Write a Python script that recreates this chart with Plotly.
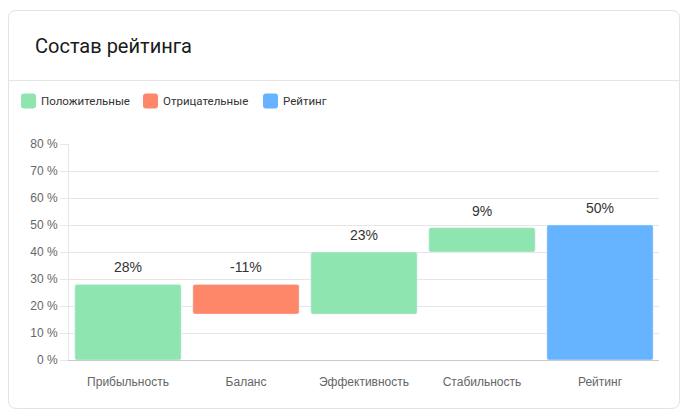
import plotly.graph_objects as go

# Chart data
categories = ['Прибыльность', 'Баланс', 'Эффективность', 'Стабильность', 'Рейтинг']
changes = [28, -11, 23, 9]
rating_total = 50
legend_names = ['Положительные', 'Отрицательные', 'Рейтинг']
colors = ['#8ee5b0', '#ff8769', '#66b3ff']
y_ticks = [0, 10, 20, 30, 40, 50, 60, 70, 80]

# the page body has an 8px margin, so the figure is drawn 8px smaller
OFF = 8
W, H = 688 - OFF, 419 - OFF
ML, MR, MT, MB = 69 - OFF, 29, 144 - OFF, 59
PW, PH = W - ML - MR, H - MT - MB


def px(x):
    return (x - OFF - ML) / PW


def py(y):
    return (H - MB - (y - OFF)) / PH


# running bases for the waterfall steps
bases = []
running = 0
for v in changes:
    bases.append(running)
    running += v

fig = go.Figure()

pos_x = [c for c, v in zip(categories, changes) if v >= 0]
pos_y = [v for v in changes if v >= 0]
pos_b = [b for b, v in zip(bases, changes) if v >= 0]
neg_x = [c for c, v in zip(categories, changes) if v < 0]
neg_y = [v for v in changes if v < 0]
neg_b = [b for b, v in zip(bases, changes) if v < 0]

fig.add_trace(go.Bar(x=pos_x, y=pos_y, base=pos_b, name=legend_names[0],
                     marker=dict(color=colors[0], cornerradius=2)))
fig.add_trace(go.Bar(x=neg_x, y=neg_y, base=neg_b, name=legend_names[1],
                     marker=dict(color=colors[1], cornerradius=2)))
fig.add_trace(go.Bar(x=[categories[-1]], y=[rating_total], base=[0], name=legend_names[2],
                     marker=dict(color=colors[2], cornerradius=2)))

# value labels above each bar
tops = [max(b, b + v) for b, v in zip(bases, changes)] + [rating_total]
labels = ['%d%%' % v for v in changes] + ['%d%%' % rating_total]
for cat, top, lab in zip(categories, tops, labels):
    fig.add_annotation(x=cat, y=top, text=lab, showarrow=False, yshift=17,
                       font=dict(family='Liberation Sans, Arial', size=14, color='#333'))


def rounded(a, b, c, d, rr):
    return (f'M{px(a + rr)},{py(c)} L{px(b - rr)},{py(c)} Q{px(b)},{py(c)} {px(b)},{py(c + rr)} '
            f'L{px(b)},{py(d - rr)} Q{px(b)},{py(d)} {px(b - rr)},{py(d)} '
            f'L{px(a + rr)},{py(d)} Q{px(a)},{py(d)} {px(a)},{py(d - rr)} '
            f'L{px(a)},{py(c + rr)} Q{px(a)},{py(c)} {px(a + rr)},{py(c)} Z')


# card frame, header separator
fig.add_shape(type='path', path=rounded(8.5, 679.5, 10.5, 408.5, 8), xref='paper', yref='paper',
              line=dict(color='#e3e3e3', width=1), layer='below')
fig.add_shape(type='line', xref='paper', yref='paper', x0=px(8.5), x1=px(679.5), y0=py(80.5), y1=py(80.5),
              line=dict(color='#e6e6e6', width=1))

fig.add_annotation(xref='paper', yref='paper', x=px(33), y=py(46), xanchor='left', yanchor='middle',
                   text='Состав рейтинга', showarrow=False,
                   font=dict(family='Roboto', size=20, color='#1a1a1a'))

# custom legend with rounded swatches
legend_x = [21, 143, 263]
s = 15
for lx, name, col in zip(legend_x, legend_names, colors):
    fig.add_shape(type='path', path=rounded(lx, lx + s, 93.5, 93.5 + s, 3), xref='paper', yref='paper',
                  fillcolor=col, line=dict(width=0))
    fig.add_annotation(xref='paper', yref='paper', x=px(lx + s + 3), y=py(101), xanchor='left',
                       yanchor='middle', text=name, showarrow=False,
                       font=dict(family='Roboto', size=11.5, color='#333'))

fig.update_layout(
    width=W, height=H,
    margin=dict(l=ML, r=MR, t=MT, b=MB),
    paper_bgcolor='white', plot_bgcolor='white',
    barmode='overlay', bargap=0.1,
    showlegend=False,
    font=dict(family='Liberation Sans, Arial', size=12, color='#666'),
)
fig.update_yaxes(range=[0, 80], tickvals=y_ticks, ticktext=['%d %%' % t for t in y_ticks],
                 showgrid=True, gridcolor='#e6e6e6', gridwidth=1,
                 showline=True, linecolor='#e6e6e6', zeroline=False,
                 ticks='outside', ticklen=8, tickcolor='#e6e6e6',
                 tickfont=dict(size=12, color='#666'))
fig.update_xaxes(categoryorder='array', categoryarray=categories,
                 showline=True, linecolor='#c9c9c9', showgrid=False,
                 ticks='outside', ticklen=11, tickcolor='rgba(0,0,0,0)',
                 tickfont=dict(size=12, color='#666'))

fig.write_html('out.html')
